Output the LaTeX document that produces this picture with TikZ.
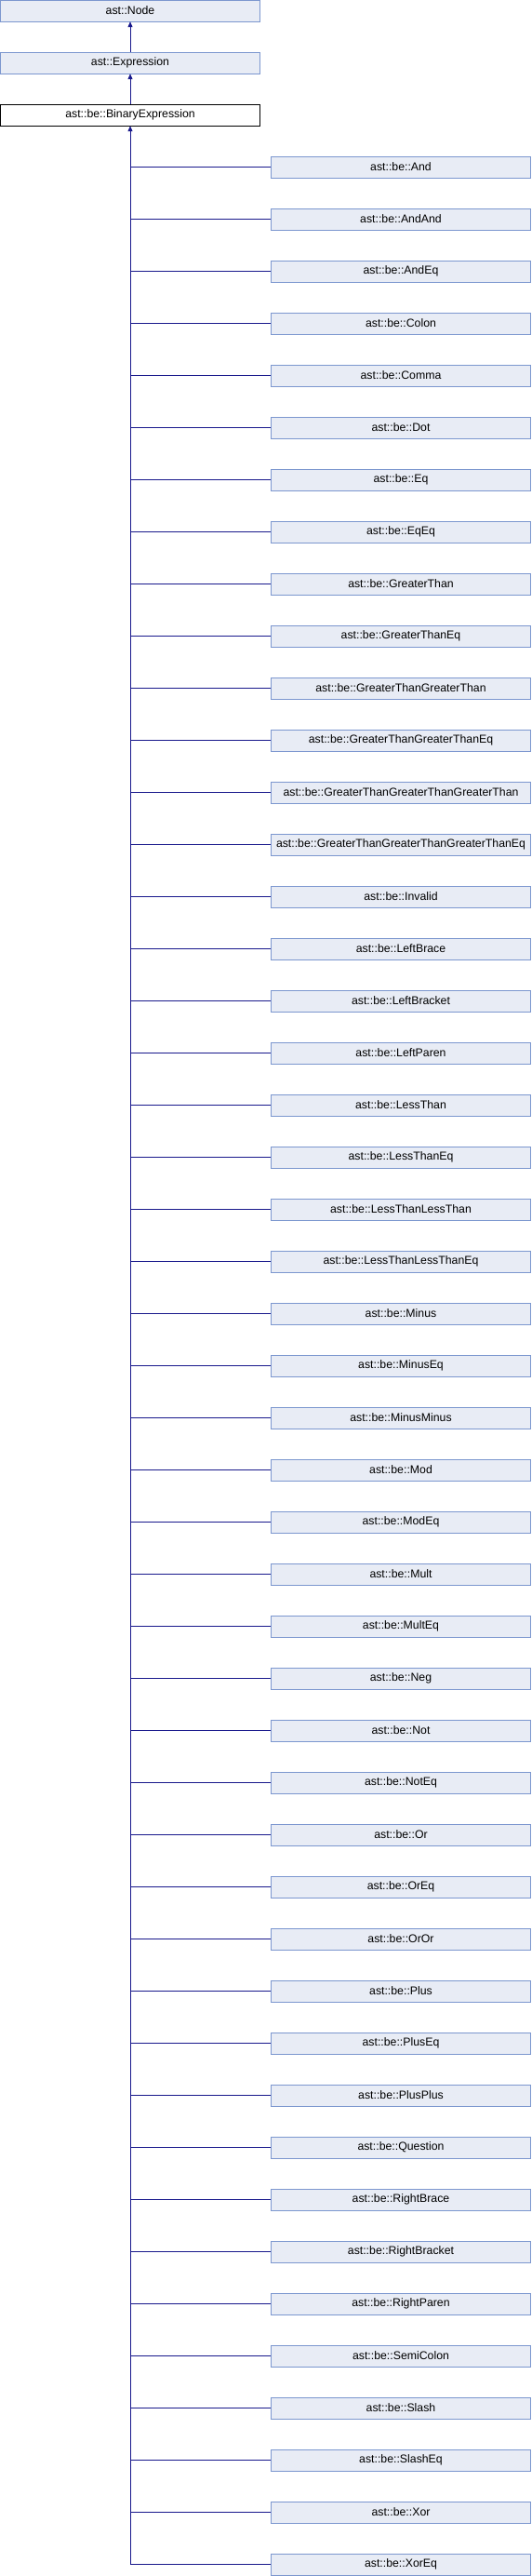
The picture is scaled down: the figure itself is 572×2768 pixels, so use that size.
\documentclass[tikz,border=0pt]{standalone}
\usepackage{fontspec}
\setmainfont{Liberation Sans}
\usepackage{tikz}
\usetikzlibrary{arrows.meta}
\definecolor{boxfill}{RGB}{232,236,245}
\definecolor{boxdraw}{RGB}{124,151,207}
\definecolor{edgeblue}{RGB}{25,25,140}

\begin{document}
\begin{tikzpicture}[x=1pt, y=1pt, node distance=56pt, >={Triangle[length=6pt,width=5pt]}]
\tikzstyle{base} = [draw=boxdraw, fill=boxfill, rectangle, minimum width=279pt, minimum height=23pt, inner sep=0pt, font=\fontsize{12.3}{14}\selectfont]
\tikzstyle{current} = [base, draw=black, fill=white]
\tikzstyle{link} = [draw=edgeblue, line width=1pt]

\useasboundingbox (0,0) rectangle (572,-2768);

% Base classes down the left
\node [base] (Node) at (140,-11.5) {ast::Node};
\node [base, below of=Node] (Expression) {ast::Expression};
\node [current, below of=Expression] (BinExpr) {ast::be::BinaryExpression};

% Derived classes down the right
\node [base, below of=BinExpr, xshift=291pt] (And) {ast::be::And};
\node [base, below of=And] (AndAnd) {ast::be::AndAnd};
\node [base, below of=AndAnd] (AndEq) {ast::be::AndEq};
\node [base, below of=AndEq] (Colon) {ast::be::Colon};
\node [base, below of=Colon] (Comma) {ast::be::Comma};
\node [base, below of=Comma] (Dot) {ast::be::Dot};
\node [base, below of=Dot] (Eq) {ast::be::Eq};
\node [base, below of=Eq] (EqEq) {ast::be::EqEq};
\node [base, below of=EqEq] (GT) {ast::be::GreaterThan};
\node [base, below of=GT] (GTEq) {ast::be::GreaterThanEq};
\node [base, below of=GTEq] (GTGT) {ast::be::GreaterThanGreaterThan};
\node [base, below of=GTGT] (GTGTEq) {ast::be::GreaterThanGreaterThanEq};
\node [base, below of=GTGTEq] (GTGTGT) {ast::be::GreaterThanGreaterThanGreaterThan};
\node [base, below of=GTGTGT] (GTGTGTEq) {ast::be::GreaterThanGreaterThanGreaterThanEq};
\node [base, below of=GTGTGTEq] (Invalid) {ast::be::Invalid};
\node [base, below of=Invalid] (LBrace) {ast::be::LeftBrace};
\node [base, below of=LBrace] (LBracket) {ast::be::LeftBracket};
\node [base, below of=LBracket] (LParen) {ast::be::LeftParen};
\node [base, below of=LParen] (LT) {ast::be::LessThan};
\node [base, below of=LT] (LTEq) {ast::be::LessThanEq};
\node [base, below of=LTEq] (LTLT) {ast::be::LessThanLessThan};
\node [base, below of=LTLT] (LTLTEq) {ast::be::LessThanLessThanEq};
\node [base, below of=LTLTEq] (Minus) {ast::be::Minus};
\node [base, below of=Minus] (MinusEq) {ast::be::MinusEq};
\node [base, below of=MinusEq] (MinusMinus) {ast::be::MinusMinus};
\node [base, below of=MinusMinus] (Mod) {ast::be::Mod};
\node [base, below of=Mod] (ModEq) {ast::be::ModEq};
\node [base, below of=ModEq] (Mult) {ast::be::Mult};
\node [base, below of=Mult] (MultEq) {ast::be::MultEq};
\node [base, below of=MultEq] (Neg) {ast::be::Neg};
\node [base, below of=Neg] (Not) {ast::be::Not};
\node [base, below of=Not] (NotEq) {ast::be::NotEq};
\node [base, below of=NotEq] (Or) {ast::be::Or};
\node [base, below of=Or] (OrEq) {ast::be::OrEq};
\node [base, below of=OrEq] (OrOr) {ast::be::OrOr};
\node [base, below of=OrOr] (Plus) {ast::be::Plus};
\node [base, below of=Plus] (PlusEq) {ast::be::PlusEq};
\node [base, below of=PlusEq] (PlusPlus) {ast::be::PlusPlus};
\node [base, below of=PlusPlus] (Question) {ast::be::Question};
\node [base, below of=Question] (RBrace) {ast::be::RightBrace};
\node [base, below of=RBrace] (RBracket) {ast::be::RightBracket};
\node [base, below of=RBracket] (RParen) {ast::be::RightParen};
\node [base, below of=RParen] (SemiColon) {ast::be::SemiColon};
\node [base, below of=SemiColon] (Slash) {ast::be::Slash};
\node [base, below of=Slash] (SlashEq) {ast::be::SlashEq};
\node [base, below of=SlashEq] (Xor) {ast::be::Xor};
\node [base, below of=Xor] (XorEq) {ast::be::XorEq};

% Inheritance arrows
\draw [link, ->] (Expression) -- (Node);
\draw [link, ->] (BinExpr) -- (Expression);
\coordinate (trunk) at (BinExpr.south |- XorEq.west);
\draw [link, ->] (trunk) -- (BinExpr);

% Branches off the trunk
\draw [link] (BinExpr.south |- And.west) -- (And.west);
\draw [link] (BinExpr.south |- AndAnd.west) -- (AndAnd.west);
\draw [link] (BinExpr.south |- AndEq.west) -- (AndEq.west);
\draw [link] (BinExpr.south |- Colon.west) -- (Colon.west);
\draw [link] (BinExpr.south |- Comma.west) -- (Comma.west);
\draw [link] (BinExpr.south |- Dot.west) -- (Dot.west);
\draw [link] (BinExpr.south |- Eq.west) -- (Eq.west);
\draw [link] (BinExpr.south |- EqEq.west) -- (EqEq.west);
\draw [link] (BinExpr.south |- GT.west) -- (GT.west);
\draw [link] (BinExpr.south |- GTEq.west) -- (GTEq.west);
\draw [link] (BinExpr.south |- GTGT.west) -- (GTGT.west);
\draw [link] (BinExpr.south |- GTGTEq.west) -- (GTGTEq.west);
\draw [link] (BinExpr.south |- GTGTGT.west) -- (GTGTGT.west);
\draw [link] (BinExpr.south |- GTGTGTEq.west) -- (GTGTGTEq.west);
\draw [link] (BinExpr.south |- Invalid.west) -- (Invalid.west);
\draw [link] (BinExpr.south |- LBrace.west) -- (LBrace.west);
\draw [link] (BinExpr.south |- LBracket.west) -- (LBracket.west);
\draw [link] (BinExpr.south |- LParen.west) -- (LParen.west);
\draw [link] (BinExpr.south |- LT.west) -- (LT.west);
\draw [link] (BinExpr.south |- LTEq.west) -- (LTEq.west);
\draw [link] (BinExpr.south |- LTLT.west) -- (LTLT.west);
\draw [link] (BinExpr.south |- LTLTEq.west) -- (LTLTEq.west);
\draw [link] (BinExpr.south |- Minus.west) -- (Minus.west);
\draw [link] (BinExpr.south |- MinusEq.west) -- (MinusEq.west);
\draw [link] (BinExpr.south |- MinusMinus.west) -- (MinusMinus.west);
\draw [link] (BinExpr.south |- Mod.west) -- (Mod.west);
\draw [link] (BinExpr.south |- ModEq.west) -- (ModEq.west);
\draw [link] (BinExpr.south |- Mult.west) -- (Mult.west);
\draw [link] (BinExpr.south |- MultEq.west) -- (MultEq.west);
\draw [link] (BinExpr.south |- Neg.west) -- (Neg.west);
\draw [link] (BinExpr.south |- Not.west) -- (Not.west);
\draw [link] (BinExpr.south |- NotEq.west) -- (NotEq.west);
\draw [link] (BinExpr.south |- Or.west) -- (Or.west);
\draw [link] (BinExpr.south |- OrEq.west) -- (OrEq.west);
\draw [link] (BinExpr.south |- OrOr.west) -- (OrOr.west);
\draw [link] (BinExpr.south |- Plus.west) -- (Plus.west);
\draw [link] (BinExpr.south |- PlusEq.west) -- (PlusEq.west);
\draw [link] (BinExpr.south |- PlusPlus.west) -- (PlusPlus.west);
\draw [link] (BinExpr.south |- Question.west) -- (Question.west);
\draw [link] (BinExpr.south |- RBrace.west) -- (RBrace.west);
\draw [link] (BinExpr.south |- RBracket.west) -- (RBracket.west);
\draw [link] (BinExpr.south |- RParen.west) -- (RParen.west);
\draw [link] (BinExpr.south |- SemiColon.west) -- (SemiColon.west);
\draw [link] (BinExpr.south |- Slash.west) -- (Slash.west);
\draw [link] (BinExpr.south |- SlashEq.west) -- (SlashEq.west);
\draw [link] (BinExpr.south |- Xor.west) -- (Xor.west);
\draw [link] (BinExpr.south |- XorEq.west) -- (XorEq.west);

\end{tikzpicture}
\end{document}
